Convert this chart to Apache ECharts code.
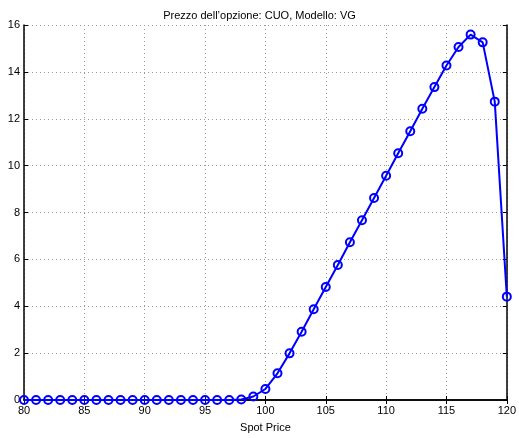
<!DOCTYPE html>
<html><head><meta charset="utf-8">
<script src="https://cdn.jsdelivr.net/npm/echarts@6/dist/echarts.min.js"></script>
<style>html,body{margin:0;padding:0;background:#fff;}#c{width:519px;height:438px;}</style>
</head><body><div id="c"></div>
<script>
const spotPrices = [80,81,82,83,84,85,86,87,88,89,90,91,92,93,94,95,96,97,98,99,100,101,102,103,104,105,106,107,108,109,110,111,112,113,114,115,116,117,118,119,120];
const optionPrices = [0,0,0,0,0,0,0,0,0,0,0,0,0,0,0,0,0,0,0.02,0.15,0.47,1.14,1.99,2.91,3.87,4.82,5.76,6.73,7.67,8.62,9.57,10.53,11.47,12.43,13.35,14.27,15.06,15.59,15.26,12.73,4.41];
const xTicks = [80,85,90,95,100,105,110,115,120];
const yTicks = [0,2,4,6,8,10,12,14,16];
const titleText = "Prezzo dell’opzione: CUO, Modello: VG";
const xLabel = "Spot Price";

const font = "Liberation Sans, Arial, sans-serif";
const chart = echarts.init(document.getElementById('c'), null, {renderer:'canvas'});
const axLine = {show:true, lineStyle:{color:'#000', width:1.5}};
const grid = {show:true, lineStyle:{color:'#999', type:[1,3], width:1}};
chart.setOption({
  animation:false,
  backgroundColor:'#fff',
  title:{text:titleText, left:'center', top:5, textStyle:{fontFamily:font, fontSize:11, fontWeight:'normal', color:'#000'}},
  grid:{left:24, right:8, top:25, bottom:30, containLabel:false},
  xAxis:[{
    type:'value', min:xTicks[0], max:xTicks[xTicks.length-1], interval:5,
    name:xLabel, nameLocation:'middle', nameGap:22,
    nameTextStyle:{fontFamily:font, fontSize:11, color:'#000'},
    axisLine:axLine, axisTick:{show:true, inside:true, length:4, lineStyle:{color:'#000'}},
    axisLabel:{fontFamily:font, fontSize:11, color:'#000', margin:5},
    splitLine:grid
  },{
    type:'value', position:'top', min:xTicks[0], max:xTicks[xTicks.length-1], interval:5,
    axisLine:axLine, axisTick:{show:true, inside:true, length:4, lineStyle:{color:'#000'}},
    axisLabel:{show:false}, splitLine:{show:false}
  }],
  yAxis:[{
    type:'value', min:yTicks[0], max:yTicks[yTicks.length-1], interval:2,
    axisLine:axLine, axisTick:{show:true, inside:true, length:4, lineStyle:{color:'#000'}},
    axisLabel:{fontFamily:font, fontSize:11, color:'#000', margin:4},
    splitLine:grid
  },{
    type:'value', position:'right', min:yTicks[0], max:yTicks[yTicks.length-1], interval:2,
    axisLine:axLine, axisTick:{show:true, inside:true, length:4, lineStyle:{color:'#000'}},
    axisLabel:{show:false}, splitLine:{show:false}
  }],
  series:[{
    type:'line',
    data:spotPrices.map((x,i)=>[x, optionPrices[i]]),
    symbol:'circle', symbolSize:8,
    lineStyle:{color:'#0000ff', width:2},
    itemStyle:{color:'rgba(0,0,0,0)', borderColor:'#0000ff', borderWidth:2},
    clip:false
  }]
});
</script></body></html>
